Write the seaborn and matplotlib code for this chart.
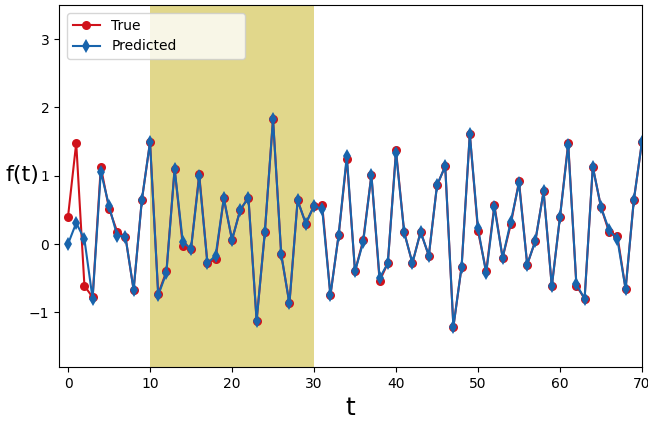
import numpy as np
import pandas as pd
import matplotlib
matplotlib.use("Agg")
import matplotlib.pyplot as plt
import seaborn as sns

t = list(range(71))
true_vals = [0.40, 1.48, -0.61, -0.78, 1.13, 0.52, 0.18, 0.11, -0.67, 0.64,
             1.49, -0.73, -0.40, 1.10, -0.03, -0.07, 1.02, -0.28, -0.22, 0.67,
             0.06, 0.50, 0.68, -1.12, 0.17, 1.83, -0.15, -0.87, 0.64, 0.30,
             0.56, 0.57, -0.75, 0.13, 1.25, -0.40, 0.06, 1.01, -0.54, -0.28,
             1.37, 0.17, -0.28, 0.18, -0.17, 0.86, 1.14, -1.21, -0.33, 1.61,
             0.19, -0.40, 0.57, -0.20, 0.29, 0.92, -0.30, 0.05, 0.77, -0.62,
             0.40, 1.48, -0.61, -0.80, 1.13, 0.54, 0.17, 0.12, -0.66, 0.64,
             1.50]
pred_vals = [0.00, 0.31, 0.07, -0.80, 1.06, 0.56, 0.12, 0.11, -0.67, 0.64,
             1.49, -0.75, -0.42, 1.10, 0.03, -0.07, 0.99, -0.28, -0.17, 0.67,
             0.06, 0.50, 0.68, -1.12, 0.17, 1.83, -0.15, -0.87, 0.64, 0.30,
             0.56, 0.51, -0.75, 0.13, 1.29, -0.40, 0.03, 1.01, -0.50, -0.28,
             1.34, 0.17, -0.28, 0.18, -0.17, 0.86, 1.14, -1.21, -0.33, 1.61,
             0.23, -0.43, 0.54, -0.20, 0.33, 0.89, -0.30, 0.05, 0.77, -0.62,
             0.40, 1.45, -0.59, -0.80, 1.13, 0.54, 0.20, 0.07, -0.66, 0.64,
             1.50]
shade_range = [10, 30]

df_true = pd.DataFrame({"t": t, "f": true_vals})
df_pred = pd.DataFrame({"t": t, "f": pred_vals})

fig = plt.figure(figsize=(6.48, 4.21), dpi=100)
ax = fig.add_axes([59/648, 1-367/421, (642-59)/648, (367-5)/421])

ax.axvspan(shade_range[0], shade_range[1], color="#e1d78b", zorder=0, lw=0)

sns.lineplot(data=df_true, x="t", y="f", ax=ax, color="#d0121b", marker="o",
             markersize=6.5, markeredgewidth=0, linewidth=1.5, label="True")
sns.lineplot(data=df_pred, x="t", y="f", ax=ax, color="#1864ac", marker="d",
             markersize=7.5, markeredgewidth=0, linewidth=1.5, label="Predicted")

ax.set_xlim(-1.1, 70)
ax.set_ylim(-1.8, 3.5)
ax.set_xticks([0, 10, 20, 30, 40, 50, 60, 70])
ax.set_yticks([-1, 0, 1, 2, 3])
ax.set_yticklabels(["\u22121", "0", "1", "2", "3"])
ax.set_xlabel("t", fontsize=18)
ax.set_ylabel("f(t)", fontsize=16, rotation=0, va="center", ha="center")
ax.yaxis.set_label_coords(-0.063, 0.53)
ax.legend(loc="upper left", fontsize=10, mode="expand", borderaxespad=0,
          bbox_to_anchor=(0.0137, 0.0, 0.305, 0.978))

fig.savefig("out.png", dpi=100)
